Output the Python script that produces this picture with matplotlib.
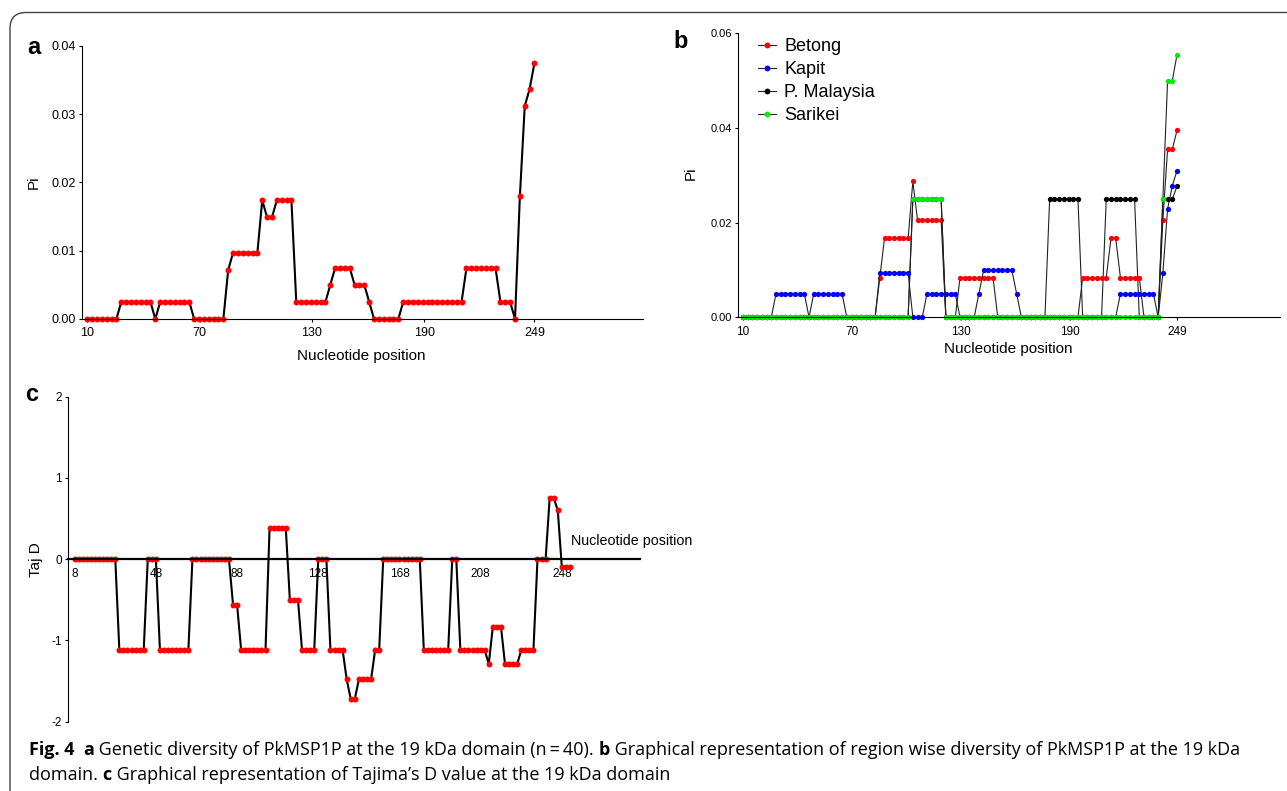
import matplotlib
matplotlib.use("Agg")
import matplotlib.pyplot as plt
import numpy as np
from matplotlib.lines import Line2D
from matplotlib.patches import FancyBboxPatch
from matplotlib.transforms import IdentityTransform

plt.rcParams["font.family"] = ["Liberation Sans", "DejaVu Sans"]
plt.rcParams["axes.unicode_minus"] = False

W, H = 1287, 791
CAPTION_FONT = ["Open Sans", "DejaVu Sans"]

# sliding window midpoints (panels a and b)
PI_POS = np.linspace(10, 249, 93)
PI_TICKS = [10, 70, 130, 190, 249]

PI_ALL = [
    0, 0, 0, 0, 0, 0, 0,
    0.0025, 0.0025, 0.0025, 0.0025, 0.0025, 0.0025, 0.0025,
    0,
    0.0025, 0.0025, 0.0025, 0.0025, 0.0025, 0.0025, 0.0025,
    0, 0, 0, 0, 0, 0, 0,
    0.0072,
    0.0097, 0.0097, 0.0097, 0.0097, 0.0097, 0.0097,
    0.0174, 0.0149, 0.0149, 0.0174, 0.0174, 0.0174, 0.0174,
    0.0025, 0.0025, 0.0025, 0.0025, 0.0025, 0.0025, 0.0025,
    0.005, 0.0075, 0.0075, 0.0075, 0.0075, 0.005, 0.005, 0.005, 0.0025,
    0, 0, 0, 0, 0, 0,
    0.0025, 0.0025, 0.0025, 0.0025, 0.0025, 0.0025, 0.0025,
    0.0025, 0.0025, 0.0025, 0.0025, 0.0025, 0.0025,
    0.0074, 0.0074, 0.0074, 0.0074, 0.0074, 0.0074, 0.0074,
    0.0025, 0.0025, 0.0025,
    0, 0.018, 0.0312, 0.0337, 0.0375,
]

BETONG = [
    0, 0, 0, 0, 0, 0, 0, 0, 0, 0,
    0, 0, 0, 0, 0, 0, 0, 0, 0, 0,
    0, 0, 0, 0, 0, 0, 0, 0, 0,
    0.0084,
    0.0167, 0.0167, 0.0167, 0.0167, 0.0167, 0.0167,
    0.0287,
    0.0205, 0.0205, 0.0205, 0.0205, 0.0205, 0.0205,
    0, 0, 0,
    0.0084, 0.0084, 0.0084, 0.0084, 0.0084, 0.0084, 0.0084, 0.0084,
    0, 0, 0, 0, 0, 0, 0, 0, 0, 0,
    0, 0, 0, 0, 0, 0, 0, 0,
    0.0084, 0.0084, 0.0084, 0.0084, 0.0084, 0.0084,
    0.0167, 0.0167,
    0.0084, 0.0084, 0.0084, 0.0084, 0.0084,
    0, 0, 0, 0,
    0.0205, 0.0355, 0.0355, 0.0395,
]

KAPIT = [
    0, 0, 0, 0, 0, 0, 0,
    0.005, 0.005, 0.005, 0.005, 0.005, 0.005, 0.005,
    0,
    0.005, 0.005, 0.005, 0.005, 0.005, 0.005, 0.005,
    0, 0, 0, 0, 0, 0, 0,
    0.0094, 0.0094, 0.0094, 0.0094, 0.0094, 0.0094, 0.0094,
    0, 0, 0,
    0.005, 0.005, 0.005, 0.005, 0.005, 0.005, 0.005,
    0, 0, 0, 0,
    0.005,
    0.0099, 0.0099, 0.0099, 0.0099, 0.0099, 0.0099, 0.0099,
    0.005,
    0, 0, 0, 0, 0, 0, 0, 0, 0, 0,
    0, 0, 0, 0, 0, 0, 0, 0, 0, 0, 0,
    0.005, 0.005, 0.005, 0.005, 0.005, 0.005, 0.005, 0.005,
    0,
    0.0094, 0.0229, 0.0278, 0.031,
]

P_MALAYSIA = [
    0, 0, 0, 0, 0, 0, 0, 0, 0, 0,
    0, 0, 0, 0, 0, 0, 0, 0, 0, 0,
    0, 0, 0, 0, 0, 0, 0, 0, 0, 0,
    0, 0, 0, 0, 0, 0,
    0.025, 0.025, 0.025, 0.025, 0.025, 0.025, 0.025,
    0, 0, 0, 0, 0, 0, 0, 0, 0, 0,
    0, 0, 0, 0, 0, 0, 0, 0, 0, 0,
    0, 0,
    0.025, 0.025, 0.025, 0.025, 0.025, 0.025, 0.025,
    0, 0, 0, 0, 0,
    0.025, 0.025, 0.025, 0.025, 0.025, 0.025, 0.025,
    0, 0, 0, 0, 0,
    0.025, 0.025, 0.025, 0.0277,
]

SARIKEI = [
    0, 0, 0, 0, 0, 0, 0, 0, 0, 0,
    0, 0, 0, 0, 0, 0, 0, 0, 0, 0,
    0, 0, 0, 0, 0, 0, 0, 0, 0, 0,
    0, 0, 0, 0, 0, 0,
    0.025, 0.025, 0.025, 0.025, 0.025, 0.025, 0.025,
    0, 0, 0, 0, 0, 0, 0, 0, 0, 0,
    0, 0, 0, 0, 0, 0, 0, 0, 0, 0,
    0, 0, 0, 0, 0, 0, 0, 0, 0, 0,
    0, 0, 0, 0, 0, 0, 0, 0, 0, 0,
    0, 0, 0, 0, 0, 0,
    0.025, 0.05, 0.05, 0.0555,
]

REGIONS = ["Betong", "Kapit", "P. Malaysia", "Sarikei"]
REGION_VALUES = {"Betong": BETONG, "Kapit": KAPIT, "P. Malaysia": P_MALAYSIA, "Sarikei": SARIKEI}
REGION_COLORS = {"Betong": "#ff0000", "Kapit": "#0000ff", "P. Malaysia": "#000000", "Sarikei": "#00ee00"}
DRAW_ORDER = ["P. Malaysia", "Betong", "Kapit", "Sarikei"]

# Tajima's D windows (panel c)
TAJ_POS = np.arange(8, 253, 2)
TAJ_TICKS = [8, 48, 88, 128, 168, 208, 248]
TAJ_D = [
    0, 0, 0, 0, 0, 0, 0, 0, 0, 0, 0,
    -1.12, -1.12, -1.12, -1.12, -1.12, -1.12, -1.12,
    0, 0, 0,
    -1.12, -1.12, -1.12, -1.12, -1.12, -1.12, -1.12, -1.12,
    0, 0, 0, 0, 0, 0, 0, 0, 0, 0,
    -0.56, -0.56,
    -1.12, -1.12, -1.12, -1.12, -1.12, -1.12, -1.12,
    0.38, 0.38, 0.38, 0.38, 0.38,
    -0.5, -0.5, -0.5,
    -1.12, -1.12, -1.12, -1.12,
    0, 0, 0,
    -1.12, -1.12, -1.12, -1.12,
    -1.48, -1.72, -1.72, -1.48, -1.48, -1.48, -1.48,
    -1.12, -1.12,
    0, 0, 0, 0, 0, 0, 0, 0, 0, 0,
    -1.12, -1.12, -1.12, -1.12, -1.12, -1.12, -1.12,
    0, 0,
    -1.12, -1.12, -1.12, -1.12, -1.12, -1.12, -1.12,
    -1.29, -0.83, -0.83, -0.83, -1.29, -1.29, -1.29, -1.29,
    -1.12, -1.12, -1.12, -1.12,
    0, 0, 0,
    0.755, 0.755, 0.6,
    -0.1, -0.1, -0.1,
]

CAPTION_LINE1 = [
    ("Fig. 4", "bold"), ("  ", "normal"), ("a", "bold"),
    (" Genetic diversity of PkMSP1P at the 19 kDa domain (n\u2009=\u200940). ", "normal"),
    ("b", "bold"),
    (" Graphical representation of region wise diversity of PkMSP1P at the 19 kDa", "normal"),
]
CAPTION_LINE2 = [
    ("domain. ", "normal"), ("c", "bold"),
    (" Graphical representation of Tajima\u2019s D value at the 19 kDa domain", "normal"),
]


def px_axes(fig, left, top, right, bottom):
    return fig.add_axes([left / W, 1 - bottom / H, (right - left) / W, (bottom - top) / H])


def style_axes(ax, size):
    for side in ["top", "right"]:
        ax.spines[side].set_visible(False)
    ax.tick_params(labelsize=size, length=2.5, width=0.8, pad=2, colors="black")


def run_width(fig, renderer, text, **kw):
    probe = fig.text(0, 0, text + "|", **kw)
    bar = fig.text(0, 0, "|", **kw)
    width = probe.get_window_extent(renderer).width - bar.get_window_extent(renderer).width
    probe.remove()
    bar.remove()
    return width


def draw_caption_line(fig, runs, x_px, y_px, size):
    renderer = fig.canvas.get_renderer()
    x = x_px
    for text, weight in runs:
        kw = dict(fontsize=size, fontweight=weight, family=CAPTION_FONT, va="center", ha="left")
        fig.text(x / W, 1 - y_px / H, text, **kw)
        x += run_width(fig, renderer, text, **kw)


fig = plt.figure(figsize=(W / 100, H / 100), dpi=100)

frame = FancyBboxPatch((10, -40), 1340, H - 12.5 + 40,
                       boxstyle="round,pad=0,rounding_size=16",
                       transform=IdentityTransform(), facecolor="none",
                       edgecolor="#444444", linewidth=1.0)
fig.add_artist(frame)

# panel a
ax_a = px_axes(fig, 82, 46, 643, 319)
ax_a.plot(PI_POS, PI_ALL, color="black", lw=1.5, marker="o", ms=4.3,
          mfc="red", mec="red", mew=0, clip_on=False)
ax_a.set_xlim(7.2, 307)
ax_a.set_ylim(0, 0.04)
ax_a.set_xticks(PI_TICKS)
ax_a.set_yticks([0, 0.01, 0.02, 0.03, 0.04])
ax_a.set_yticklabels(["0.00", "0.01", "0.02", "0.03", "0.04"])
style_axes(ax_a, 9)
ax_a.tick_params(axis="x", pad=3)
ax_a.set_ylabel("Pi", fontsize=11)
ax_a.yaxis.set_label_coords(-0.073, 0.5)
ax_a.set_xlabel("Nucleotide position", fontsize=11)
ax_a.xaxis.set_label_coords(0.497, -0.11)

# panel b
ax_b = px_axes(fig, 738, 33.3, 1280, 317.3)
for region in DRAW_ORDER:
    color = REGION_COLORS[region]
    ax_b.plot(PI_POS, REGION_VALUES[region], color="#222222", lw=0.8,
              marker="o", ms=3.8, mfc=color, mec=color, mew=0, clip_on=False)
ax_b.set_xlim(7.25, 305.7)
ax_b.set_ylim(0, 0.06)
ax_b.set_xticks(PI_TICKS)
ax_b.set_yticks([0, 0.02, 0.04, 0.06])
ax_b.set_yticklabels(["0.00", "0.02", "0.04", "0.06"])
style_axes(ax_b, 8)
ax_b.tick_params(axis="x", labelsize=8.5, pad=3.5)
ax_b.set_ylabel("Pi", fontsize=11)
ax_b.yaxis.set_label_coords(-0.074, 0.508)
ax_b.set_xlabel("Nucleotide position", fontsize=11)
ax_b.xaxis.set_label_coords(0.498, -0.087)
handles = [Line2D([], [], color="#222222", lw=0.8, marker="o", ms=4.2,
                  mfc=REGION_COLORS[r], mec=REGION_COLORS[r], mew=0) for r in REGIONS]
ax_b.legend(handles, REGIONS, loc="upper left", bbox_to_anchor=(0.037, 0.984),
            frameon=False, fontsize=13, handlelength=1.0, handletextpad=0.45,
            labelspacing=0.34, borderpad=0, borderaxespad=0)

# panel c
ax_c = px_axes(fig, 68, 396.7, 640, 721.7)
ax_c.plot(TAJ_POS, TAJ_D, color="black", lw=1.5, marker="o", ms=4.3,
          mfc="red", mec="red", mew=0, clip_on=False)
ax_c.set_xlim(4.7, 286.5)
ax_c.set_ylim(-2, 2)
ax_c.set_xticks(TAJ_TICKS)
ax_c.set_yticks([-2, -1, 0, 1, 2])
style_axes(ax_c, 8.5)
ax_c.spines["bottom"].set_position(("data", 0))
ax_c.spines["bottom"].set_linewidth(1.6)
ax_c.tick_params(axis="x", length=0, pad=6)
ax_c.set_axisbelow(True)
ax_c.set_ylabel("Taj D", fontsize=11)
ax_c.yaxis.set_label_coords(-0.043, 0.5)
ax_c.text(0.879, 0.555, "Nucleotide position", transform=ax_c.transAxes,
          fontsize=10.3, ha="left", va="center")

# panel letters
for letter, x, y in [("a", 34, 47), ("b", 681, 42), ("c", 32, 395)]:
    fig.text(x / W, 1 - y / H, letter, fontsize=17, fontweight="bold",
             ha="center", va="center")

draw_caption_line(fig, CAPTION_LINE1, 29, 750, 13)
draw_caption_line(fig, CAPTION_LINE2, 29, 775, 13)

fig.savefig("out.png", dpi=100)
